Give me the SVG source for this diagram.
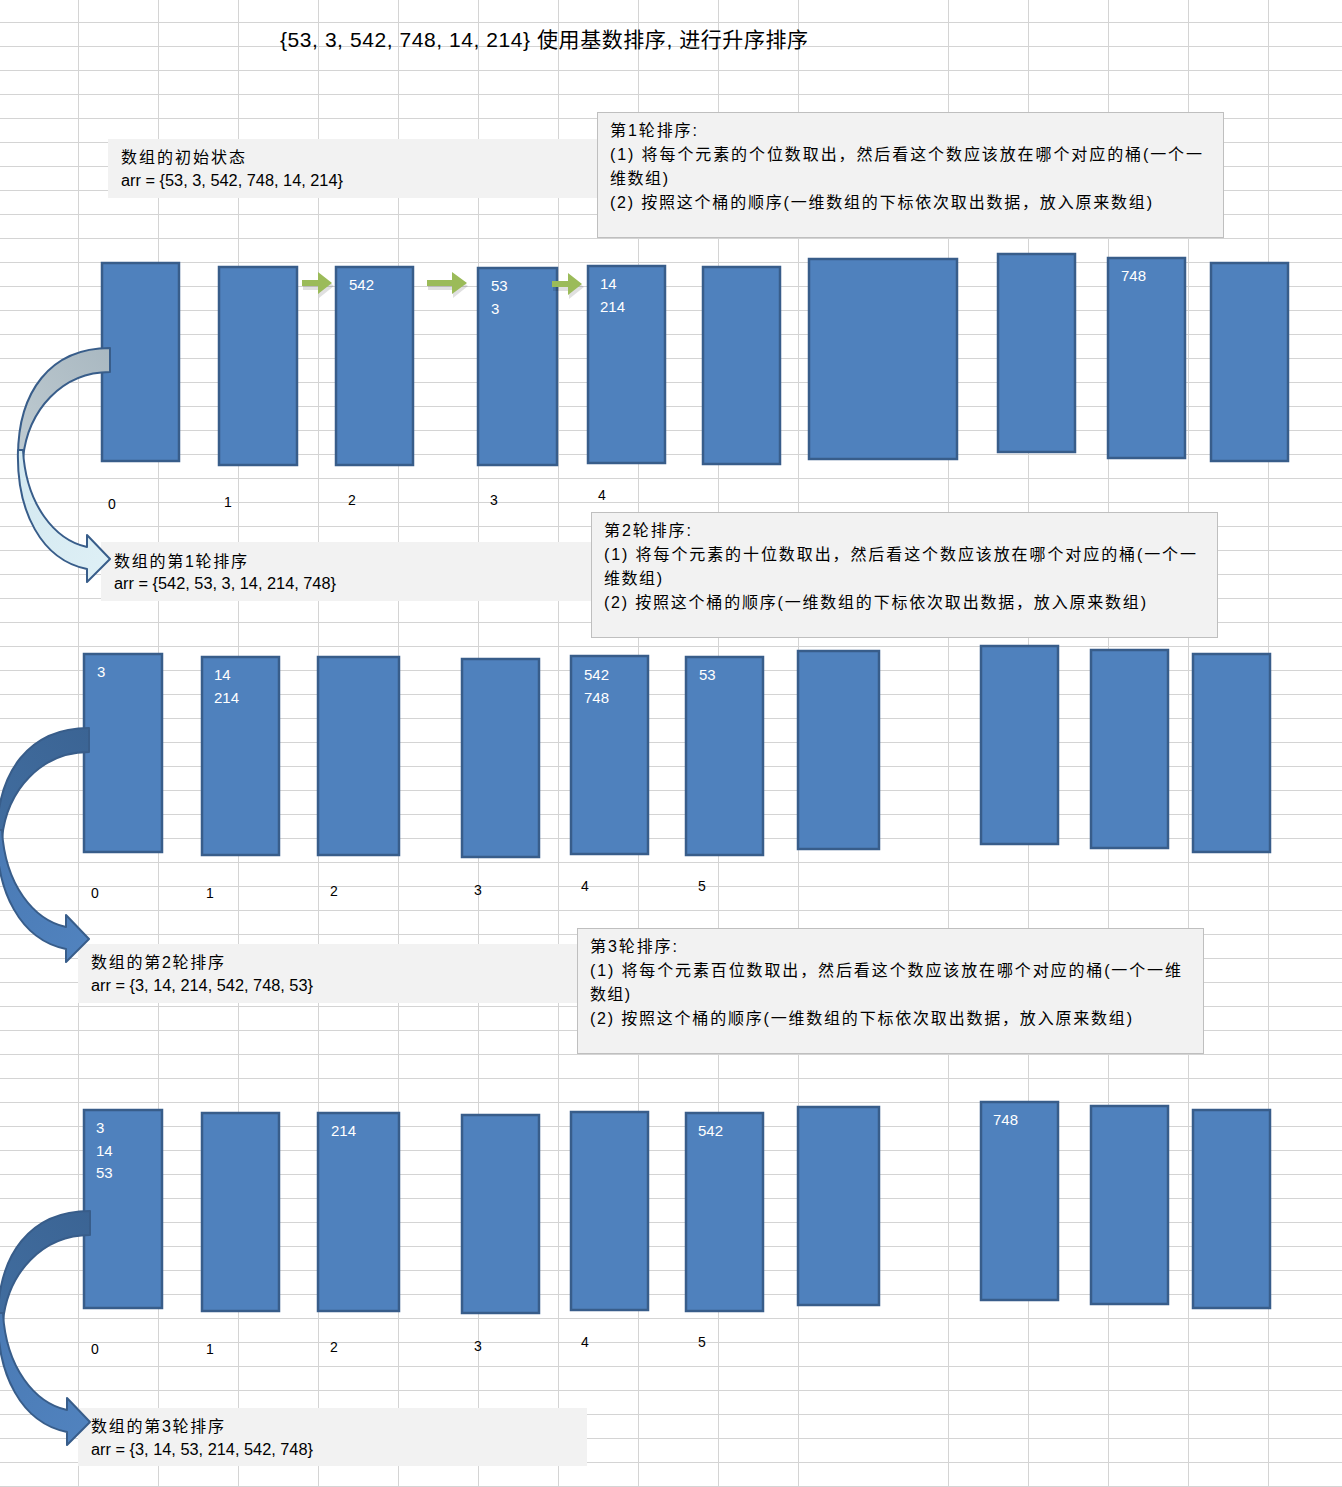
<svg xmlns="http://www.w3.org/2000/svg" width="1342" height="1487" viewBox="0 0 1342 1487">
<defs>
<style>
.vgrid{stroke:#d4d4d4;stroke-width:1;fill:none}
.bucket{fill:#4f81bd;stroke:#385d8a;stroke-width:2.5}
.num{font-family:"Liberation Sans","Noto Sans CJK SC",sans-serif;font-size:15px;fill:#ffffff}
.idx{font-family:"Liberation Sans",sans-serif;font-size:14px;fill:#000000}
.note{fill:#f2f2f2}
.desc{fill:#f2f2f2;stroke:#bfbfbf;stroke-width:1}
.t{font-family:"Liberation Sans","Noto Sans CJK SC",sans-serif;font-size:16px;fill:#000000}
.title{font-size:21px}
.green{fill:#9bbb59}
.gshadow{fill:#000000;opacity:0.12}
.curve{stroke:#385d8a;stroke-width:2;stroke-linejoin:round}
</style>
<pattern id="rowp" x="0" y="22" width="1342" height="24" patternUnits="userSpaceOnUse">
<rect x="0" y="0" width="1342" height="1" fill="#d4d4d4"/>
</pattern>
<linearGradient id="back1" x1="1" y1="0" x2="0" y2="1">
<stop offset="0" stop-color="#a9b8c1"/>
<stop offset="1" stop-color="#bfcbd1"/>
</linearGradient>
<linearGradient id="front1" x1="0" y1="0" x2="1" y2="1">
<stop offset="0" stop-color="#d2e8f0"/>
<stop offset="1" stop-color="#dff0f6"/>
</linearGradient>
<linearGradient id="back2" x1="1" y1="0" x2="0" y2="1">
<stop offset="0" stop-color="#3b6494"/>
<stop offset="1" stop-color="#416d9f"/>
</linearGradient>
<linearGradient id="front2" x1="0" y1="0" x2="1" y2="1">
<stop offset="0" stop-color="#4a7ab4"/>
<stop offset="1" stop-color="#5183bf"/>
</linearGradient>
<g id="curvedShape1">
<path class="curve" fill="url(#back1)" d="M110,348 C50,348 18,392 18,456 L23,458 C28,410 62,372 110,372 Z"/>
<path class="curve" fill="url(#front1)" d="M23,450 C26,505 55,540 87,547 L87,535 L110,559 L87,582 L87,569 C42,560 16,512 18,450 Z"/>
</g>
<g id="curvedShape2">
<path class="curve" fill="url(#back2)" d="M110,348 C50,348 18,392 18,456 L23,458 C28,410 62,372 110,372 Z"/>
<path class="curve" fill="url(#front2)" d="M23,450 C26,505 55,540 87,547 L87,535 L110,559 L87,582 L87,569 C42,560 16,512 18,450 Z"/>
</g>
</defs>

<rect x="0" y="0" width="1342" height="1487" fill="#ffffff"/>
<g id="grid">
<rect x="0" y="0" width="1342" height="1487" fill="url(#rowp)"/>
<path class="vgrid" d="M78.5 0V1487M158.5 0V1487M238.5 0V1487M318.5 0V1487M398.5 0V1487M478.5 0V1487M558.5 0V1487M638.5 0V1487M718.5 0V1487M798.5 0V1487M948.5 0V1487M1028.5 0V1487M1108.5 0V1487M1188.5 0V1487M1268.5 0V1487"/>
</g>

<g id="title">
<text class="t title" x="280" y="47" textLength="528" lengthAdjust="spacing">{53, 3, 542, 748, 14, 214} 使用基数排序, 进行升序排序</text>
</g>

<!-- State notes -->
<g id="state0">
<rect class="note" x="108" y="139" width="489" height="59"/>
<text class="t" x="121" y="163" textLength="124" lengthAdjust="spacing">数组的初始状态</text>
<text class="t" x="121" y="186" textLength="222" lengthAdjust="spacingAndGlyphs">arr = {53, 3, 542, 748, 14, 214}</text>
</g>
<g id="desc1">
<rect class="desc" x="597.5" y="112.5" width="626" height="125"/>
<text class="t" x="610" y="136" textLength="87" lengthAdjust="spacing">第1轮排序:</text>
<text class="t" x="610" y="160" textLength="592" lengthAdjust="spacing">(1) 将每个元素的个位数取出，然后看这个数应该放在哪个对应的桶(一个一</text>
<text class="t" x="610" y="184" textLength="58" lengthAdjust="spacing">维数组)</text>
<text class="t" x="610" y="208" textLength="542" lengthAdjust="spacing">(2) 按照这个桶的顺序(一维数组的下标依次取出数据，放入原来数组)</text>
</g>

<g id="state1">
<rect class="note" x="101" y="542" width="490" height="59"/>
<text class="t" x="114" y="567" textLength="133" lengthAdjust="spacing">数组的第1轮排序</text>
<text class="t" x="114" y="589" textLength="222" lengthAdjust="spacingAndGlyphs">arr = {542, 53, 3, 14, 214, 748}</text>
</g>
<g id="desc2">
<rect class="desc" x="591.5" y="512.5" width="626" height="125"/>
<text class="t" x="604" y="536" textLength="87" lengthAdjust="spacing">第2轮排序:</text>
<text class="t" x="604" y="560" textLength="592" lengthAdjust="spacing">(1) 将每个元素的十位数取出，然后看这个数应该放在哪个对应的桶(一个一</text>
<text class="t" x="604" y="584" textLength="58" lengthAdjust="spacing">维数组)</text>
<text class="t" x="604" y="608" textLength="542" lengthAdjust="spacing">(2) 按照这个桶的顺序(一维数组的下标依次取出数据，放入原来数组)</text>
</g>

<g id="state2">
<rect class="note" x="78" y="944" width="499" height="59"/>
<text class="t" x="91" y="968" textLength="133" lengthAdjust="spacing">数组的第2轮排序</text>
<text class="t" x="91" y="991" textLength="222" lengthAdjust="spacingAndGlyphs">arr = {3, 14, 214, 542, 748, 53}</text>
</g>
<g id="desc3">
<rect class="desc" x="577.5" y="928.5" width="626" height="125"/>
<text class="t" x="590" y="952" textLength="87" lengthAdjust="spacing">第3轮排序:</text>
<text class="t" x="590" y="976" textLength="591" lengthAdjust="spacing">(1) 将每个元素百位数取出，然后看这个数应该放在哪个对应的桶(一个一维</text>
<text class="t" x="590" y="1000" textLength="40" lengthAdjust="spacing">数组)</text>
<text class="t" x="590" y="1024" textLength="542" lengthAdjust="spacing">(2) 按照这个桶的顺序(一维数组的下标依次取出数据，放入原来数组)</text>
</g>

<g id="state3">
<rect class="note" x="78" y="1408" width="509" height="58"/>
<text class="t" x="91" y="1432" textLength="133" lengthAdjust="spacing">数组的第3轮排序</text>
<text class="t" x="91" y="1455" textLength="222" lengthAdjust="spacingAndGlyphs">arr = {3, 14, 53, 214, 542, 748}</text>
</g>

<!-- Round 1 buckets -->
<g id="r1b0"><rect class="bucket" x="102" y="263" width="77" height="198"/></g>
<g id="r1b1"><rect class="bucket" x="219" y="267" width="78" height="198"/></g>
<g id="r1b2"><rect class="bucket" x="336" y="267" width="77" height="198"/><text class="num" x="349" y="290">542</text></g>
<g id="r1b3"><rect class="bucket" x="478" y="268" width="79" height="197"/><text class="num" x="491" y="291">53</text><text class="num" x="491" y="314">3</text></g>
<g id="r1b4"><rect class="bucket" x="588" y="266" width="77" height="197"/><text class="num" x="600" y="289">14</text><text class="num" x="600" y="312">214</text></g>
<g id="r1b5"><rect class="bucket" x="703" y="267" width="77" height="197"/></g>
<g id="r1b6"><rect class="bucket" x="809" y="259" width="148" height="200"/></g>
<g id="r1b7"><rect class="bucket" x="998" y="254" width="77" height="198"/></g>
<g id="r1b8"><rect class="bucket" x="1108" y="258" width="77" height="200"/><text class="num" x="1121" y="281">748</text></g>
<g id="r1b9"><rect class="bucket" x="1211" y="263" width="77" height="198"/></g>
<g id="r1idx">
<text class="idx" x="108" y="509">0</text>
<text class="idx" x="224" y="507">1</text>
<text class="idx" x="348" y="505">2</text>
<text class="idx" x="490" y="505">3</text>
<text class="idx" x="598" y="500">4</text>
</g>

<!-- Round 2 buckets -->
<g id="r2b0"><rect class="bucket" x="84" y="654" width="78" height="198"/><text class="num" x="97" y="677">3</text></g>
<g id="r2b1"><rect class="bucket" x="202" y="657" width="77" height="198"/><text class="num" x="214" y="680">14</text><text class="num" x="214" y="703">214</text></g>
<g id="r2b2"><rect class="bucket" x="318" y="657" width="81" height="198"/></g>
<g id="r2b3"><rect class="bucket" x="462" y="659" width="77" height="198"/></g>
<g id="r2b4"><rect class="bucket" x="571" y="656" width="77" height="198"/><text class="num" x="584" y="680">542</text><text class="num" x="584" y="703">748</text></g>
<g id="r2b5"><rect class="bucket" x="686" y="657" width="77" height="198"/><text class="num" x="699" y="680">53</text></g>
<g id="r2b6"><rect class="bucket" x="798" y="651" width="81" height="198"/></g>
<g id="r2b7"><rect class="bucket" x="981" y="646" width="77" height="198"/></g>
<g id="r2b8"><rect class="bucket" x="1091" y="650" width="77" height="198"/></g>
<g id="r2b9"><rect class="bucket" x="1193" y="654" width="77" height="198"/></g>
<g id="r2idx">
<text class="idx" x="91" y="898">0</text>
<text class="idx" x="206" y="898">1</text>
<text class="idx" x="330" y="896">2</text>
<text class="idx" x="474" y="895">3</text>
<text class="idx" x="581" y="891">4</text>
<text class="idx" x="698" y="891">5</text>
</g>

<!-- Round 3 buckets -->
<g id="r3b0"><rect class="bucket" x="84" y="1110" width="78" height="198"/><text class="num" x="96" y="1133">3</text><text class="num" x="96" y="1156">14</text><text class="num" x="96" y="1178">53</text></g>
<g id="r3b1"><rect class="bucket" x="202" y="1113" width="77" height="198"/></g>
<g id="r3b2"><rect class="bucket" x="318" y="1113" width="81" height="198"/><text class="num" x="331" y="1136">214</text></g>
<g id="r3b3"><rect class="bucket" x="462" y="1115" width="77" height="198"/></g>
<g id="r3b4"><rect class="bucket" x="571" y="1112" width="77" height="198"/></g>
<g id="r3b5"><rect class="bucket" x="686" y="1113" width="77" height="198"/><text class="num" x="698" y="1136">542</text></g>
<g id="r3b6"><rect class="bucket" x="798" y="1107" width="81" height="198"/></g>
<g id="r3b7"><rect class="bucket" x="981" y="1102" width="77" height="198"/><text class="num" x="993" y="1125">748</text></g>
<g id="r3b8"><rect class="bucket" x="1091" y="1106" width="77" height="198"/></g>
<g id="r3b9"><rect class="bucket" x="1193" y="1110" width="77" height="198"/></g>
<g id="r3idx">
<text class="idx" x="91" y="1354">0</text>
<text class="idx" x="206" y="1354">1</text>
<text class="idx" x="330" y="1352">2</text>
<text class="idx" x="474" y="1351">3</text>
<text class="idx" x="581" y="1347">4</text>
<text class="idx" x="698" y="1347">5</text>
</g>

<!-- Connectors -->
<g id="connectors">
<polygon class="gshadow" points="303,282 319,282 319,274 334,286 319,298 319,290 303,290"/>
<polygon class="green" points="302,280 318,280 318,272 332,283 318,294 318,286 302,286"/>
<polygon class="gshadow" points="428,282 453,282 453,274 468,286 453,298 453,290 428,290"/>
<polygon class="green" points="427,280 452,280 452,272 467,283 452,294 452,286 427,286"/>
<polygon class="gshadow" points="553,283 569,283 569,275 584,287 569,299 569,291 553,291"/>
<polygon class="green" points="552,281 568,281 568,273 582,284 568,295 568,287 552,287"/>
<use href="#curvedShape1"/>
<use href="#curvedShape2" transform="translate(-21,380)"/>
<use href="#curvedShape2" transform="translate(-20,863)"/>
</g>
</svg>
